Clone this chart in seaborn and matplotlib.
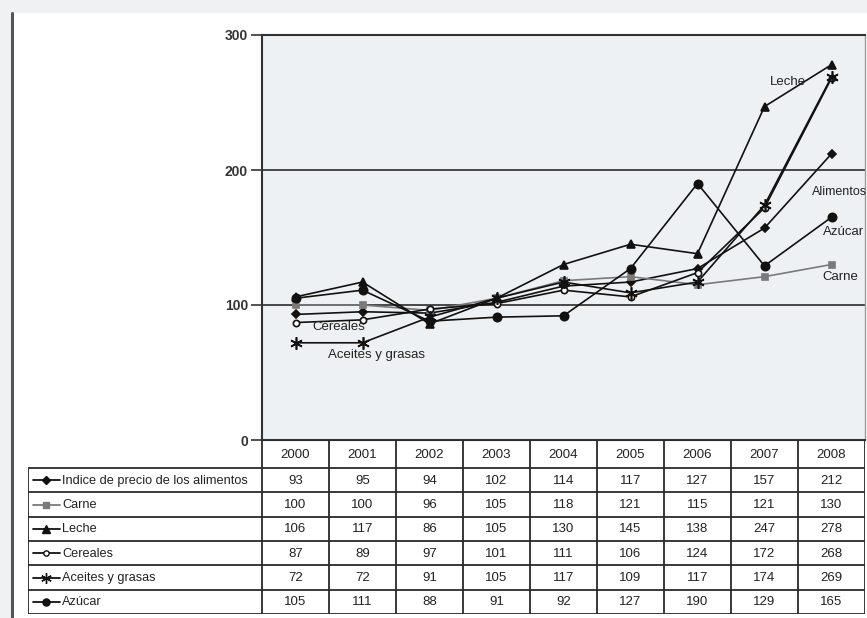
import numpy as np
import pandas as pd
import matplotlib
matplotlib.use("Agg")
import matplotlib.pyplot as plt
from matplotlib.lines import Line2D
from matplotlib.patches import Rectangle
import seaborn as sns

years = ["2000", "2001", "2002", "2003", "2004", "2005", "2006", "2007", "2008"]
series_names = ["Indice de precio de los alimentos", "Carne", "Leche", "Cereales",
                "Aceites y grasas", "Azúcar"]
indice = [93, 95, 94, 102, 114, 117, 127, 157, 212]
carne = [100, 100, 96, 105, 118, 121, 115, 121, 130]
leche = [106, 117, 86, 105, 130, 145, 138, 247, 278]
cereales = [87, 89, 97, 101, 111, 106, 124, 172, 268]
aceites = [72, 72, 91, 105, 117, 109, 117, 174, 269]
azucar = [105, 111, 88, 91, 92, 127, 190, 129, 165]
yticks = [0, 100, 200, 300]

values = [indice, carne, leche, cereales, aceites, azucar]

sns.set_theme(style="white")
plt.rcParams["font.family"] = ["Liberation Sans", "DejaVu Sans"]

W, H = 867, 618
fig = plt.figure(figsize=(W / 100, H / 100), dpi=100, facecolor="#eff1f3")

def fx(px):
    return px / W

def fy(py):
    return 1 - py / H

# white panel and left rule
fig.patches.append(Rectangle((fx(13), 0), 1 - fx(13), fy(13), transform=fig.transFigure,
                             facecolor="white", edgecolor="none", zorder=-10))
fig.lines.append(Line2D([fx(12), fx(12)], [0, fy(13)], transform=fig.transFigure,
                        color="#555555", lw=2.2, zorder=-5))

# main axes
ax = fig.add_axes([fx(262), fy(440), fx(865) - fx(262), fy(35) - fy(440)])
ax.set_facecolor("#eef1f3")

rows = []
for name, vals in zip(series_names, values):
    for i, v in enumerate(vals):
        rows.append({"serie": name, "idx": i, "valor": v})
df = pd.DataFrame(rows)

palette = {
    "Indice de precio de los alimentos": "#111111",
    "Carne": "#7a7a7a",
    "Leche": "#111111",
    "Cereales": "#111111",
    "Aceites y grasas": "#111111",
    "Azúcar": "#111111",
}
markers = {
    "Indice de precio de los alimentos": "D",
    "Carne": "s",
    "Leche": "^",
    "Cereales": "o",
    "Aceites y grasas": (6, 2, 0),
    "Azúcar": "o",
}
msize = {
    "Indice de precio de los alimentos": 4.5,
    "Carne": 4.5,
    "Leche": 6,
    "Cereales": 4.5,
    "Aceites y grasas": 9,
    "Azúcar": 6,
}

for name in series_names:
    sub = df[df["serie"] == name]
    sns.lineplot(data=sub, x="idx", y="valor", ax=ax, color=palette[name],
                 marker=markers[name], markersize=msize[name], lw=1.2,
                 markeredgecolor=palette[name],
                 markerfacecolor=("white" if name == "Cereales" else palette[name]),
                 markeredgewidth=1.2, legend=False, zorder=3)

ax.set_xlim(-0.5, 8.5)
ax.set_ylim(0, 300)
ax.set_xticks([])
ax.set_yticks(yticks)
ax.set_yticklabels([str(t) for t in yticks], fontsize=10, color="#333333", fontweight="bold")
ax.tick_params(axis="y", direction="out", length=8, width=1.2, color="#333333", pad=2, left=True)
ax.set_xlabel("")
ax.set_ylabel("")
for t in [100, 200]:
    ax.axhline(t, color="#3a3a3a", lw=1.3, zorder=2)
for s in ["left", "top", "bottom"]:
    ax.spines[s].set_color("#333333")
    ax.spines[s].set_linewidth(1.5)
ax.spines["right"].set_color("#9a9a9a")
ax.spines["right"].set_linewidth(1.0)

lab_kw = dict(color="#222222", va="center", ha="left", zorder=4)
ax.text(7.08, 265, "Leche", fontsize=9.5, **lab_kw)
ax.text(7.71, 184, "Alimentos", fontsize=9, **lab_kw)
ax.text(7.87, 154, "Azúcar", fontsize=9.5, **lab_kw)
ax.text(7.87, 121, "Carne", fontsize=9.5, **lab_kw)
ax.text(0.25, 84, "Cereales", fontsize=9.5, **lab_kw)
ax.text(0.49, 63, "Aceites y grasas", fontsize=9.5, **lab_kw)

# data table
L, R, T, B = 28, 865, 440, 614
axt = fig.add_axes([fx(L), fy(B), fx(R) - fx(L), fy(T) - fy(B)])
axt.set_xlim(L, R)
axt.set_ylim(B, T)
axt.axis("off")
x0 = 262
cw = (R - x0) / len(years)
hdr_b = 468
rh = (B - hdr_b) / len(series_names)
lc = "#2a2a2a"
lw = 1.3
axt.plot([x0, R], [T, T], color=lc, lw=lw)
for j in range(len(years) + 1):
    axt.plot([x0 + j * cw] * 2, [T, B], color=lc, lw=lw, solid_capstyle="butt")
axt.plot([L, L], [hdr_b, B], color=lc, lw=lw)
for k in range(len(series_names) + 1):
    axt.plot([L, R], [hdr_b + k * rh] * 2, color=lc, lw=lw)
for j, yr in enumerate(years):
    axt.text(x0 + (j + 0.5) * cw, (T + hdr_b) / 2 + 1, yr, ha="center", va="center",
             fontsize=9.5, color="#222222")
for k, (name, vals) in enumerate(zip(series_names, values)):
    yc = hdr_b + (k + 0.5) * rh
    col = palette[name]
    axt.plot([33, 60], [yc, yc], color=col, lw=1.3)
    axt.plot([46.5], [yc], marker=markers[name], color=col,
             markersize=msize[name] * 0.85,
             markerfacecolor=("white" if name == "Cereales" else col),
             markeredgecolor=col, markeredgewidth=1.0)
    axt.text(62, yc + 0.5, name, ha="left", va="center", fontsize=9.2, color="#222222")
    for j, v in enumerate(vals):
        axt.text(x0 + (j + 0.5) * cw, yc + 0.5, str(v), ha="center", va="center",
                 fontsize=9.5, color="#222222")

fig.savefig("out.png", dpi=100, facecolor=fig.get_facecolor())
